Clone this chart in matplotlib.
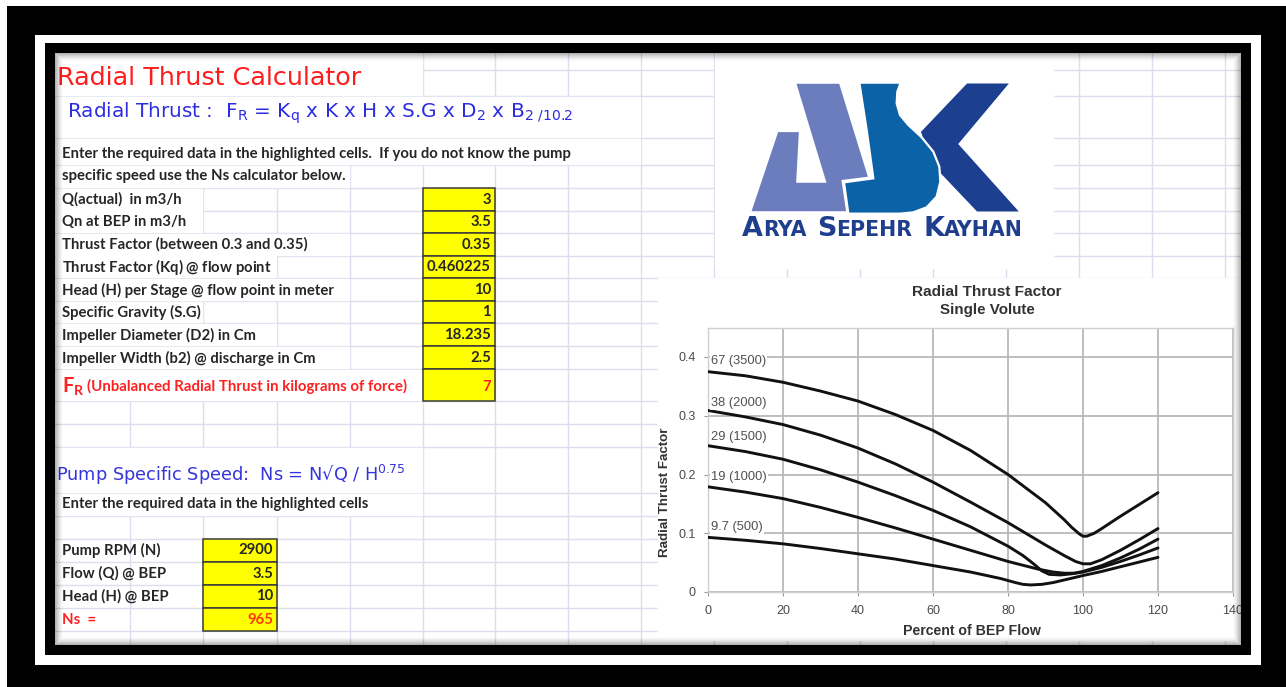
import matplotlib
matplotlib.use("Agg")
import matplotlib.pyplot as plt
from matplotlib.patches import Rectangle, Polygon, PathPatch
from matplotlib.path import Path

# ------------------------------------------------------------------ data
calc_labels = ["Q(actual)  in m3/h", "Qn at BEP in m3/h",
               "Thrust Factor (between 0.3 and 0.35)",
               "Thrust Factor (K$\\mathregular{q}$) @ flow point",
               "Head (H) per Stage @ flow point in meter",
               "Specific Gravity (S.G)", "Impeller Diameter (D2) in Cm",
               "Impeller Width (b2) @ discharge in Cm"]
calc_values = ["3", "3.5", "0.35", "0.460225", "10", "1", "18.235", "2.5"]
fr_label = "(Unbalanced Radial Thrust in kilograms of force)"
fr_value = "7"
ns_labels = ["Pump RPM (N)", "Flow (Q) @ BEP", "Head (H) @ BEP"]
ns_values = ["2900", "3.5", "10"]
ns_result = "965"

curve_names = ["67 (3500)", "38 (2000)", "29 (1500)", "19 (1000)", "9.7 (500)"]
flow_67 = [0, 10, 20, 30, 40, 50, 60, 70, 80, 90, 95, 97, 99, 100, 101, 103, 105, 110, 115, 120]
thrust_67 = [0.375, 0.368, 0.357, 0.342, 0.325, 0.302, 0.275, 0.241, 0.200, 0.152,
             0.123, 0.110, 0.099, 0.095, 0.095, 0.100, 0.108, 0.129, 0.149, 0.169]
flow_38 = [0, 10, 20, 30, 40, 50, 60, 70, 80, 90, 95, 98, 100, 102, 105, 110, 115, 120]
thrust_38 = [0.309, 0.298, 0.285, 0.267, 0.245, 0.218, 0.187, 0.153, 0.118, 0.080,
             0.062, 0.052, 0.048, 0.048, 0.055, 0.071, 0.089, 0.108]
flow_29 = [0, 10, 20, 30, 40, 50, 60, 70, 80, 84, 87, 89, 91, 94, 97, 100, 105, 110, 115, 120]
thrust_29 = [0.249, 0.239, 0.226, 0.208, 0.187, 0.164, 0.139, 0.111, 0.078, 0.062,
             0.047, 0.036, 0.030, 0.029, 0.031, 0.035, 0.045, 0.058, 0.073, 0.090]
flow_19 = [0, 10, 20, 30, 40, 50, 60, 70, 80, 88, 92, 95, 98, 100, 105, 110, 115, 120]
thrust_19 = [0.179, 0.170, 0.159, 0.144, 0.127, 0.109, 0.090, 0.071, 0.052, 0.039,
             0.034, 0.032, 0.032, 0.034, 0.042, 0.052, 0.063, 0.075]
flow_97 = [0, 10, 20, 30, 40, 50, 60, 70, 78, 82, 84, 86, 89, 92, 96, 100, 105, 110, 115, 120]
thrust_97 = [0.093, 0.088, 0.082, 0.074, 0.065, 0.056, 0.045, 0.034, 0.023, 0.016,
             0.013, 0.012, 0.013, 0.016, 0.022, 0.028, 0.035, 0.043, 0.051, 0.059]

x_ticks = [0, 20, 40, 60, 80, 100, 120, 140]
y_ticks = [0, 0.1, 0.2, 0.3, 0.4]
y_tick_labels = ["0", "0.1", "0.2", "0.3", "0.4"]

# ------------------------------------------------------------------ figure
W, H = 1286, 687
fig = plt.figure(figsize=(W / 100, H / 100), dpi=100)
R = fig.canvas.get_renderer()

bg = fig.add_axes([0, 0, 1, 1], zorder=0)
bg.set_xlim(0, W); bg.set_ylim(H, 0); bg.axis("off")

ov = fig.add_axes([0, 0, 1, 1], zorder=10)
ov.set_xlim(0, W); ov.set_ylim(H, 0); ov.axis("off"); ov.patch.set_alpha(0)


def ring(ax, outer, inner, color, z, alpha=1.0):
    x0, y0, x1, y1 = outer
    a0, b0, a1, b1 = inner
    verts = [(x0, y0), (x1, y0), (x1, y1), (x0, y1), (x0, y0),
             (a0, b0), (a0, b1), (a1, b1), (a1, b0), (a0, b0)]
    codes = [Path.MOVETO, Path.LINETO, Path.LINETO, Path.LINETO, Path.CLOSEPOLY] * 2
    ax.add_patch(PathPatch(Path(verts, codes), facecolor=color, edgecolor="none",
                           zorder=z, alpha=alpha))


def tw(t):
    return t.get_window_extent(renderer=R).width


def fit_text(ax, x, y, s, width, ha="left", va="center", size0=10, **kw):
    t = ax.text(x, y, s, fontsize=size0, ha=ha, va=va, **kw)
    t.set_fontsize(size0 * width / tw(t))
    return t


# ---------------- content background + excel grid
CX0, CY0, CX1, CY1 = 55, 53, 1241, 645
bg.add_patch(Rectangle((CX0, CY0), CX1 - CX0, CY1 - CY0, color="white", zorder=0))
GRID = "#dcdeee"
cols = [130, 203, 277, 350, 423, 495, 568, 641, 714, 787, 860, 933, 1006, 1079, 1152, 1225]
rows = [70, 96, 138, 165, 188, 210.5, 233, 255.5, 278, 301, 323, 346, 369, 401,
        424, 447, 493, 516, 539, 562, 585, 608, 631]
for c in cols:
    bg.plot([c, c], [CY0, CY1], color=GRID, lw=1.0, zorder=1)
for r in rows:
    bg.plot([CX0, CX1], [r, r], color=GRID, lw=1.0, zorder=1)


def hide(top, bot, x0, x_end):
    right = next((c for c in cols if c >= x_end), CX1)
    bg.add_patch(Rectangle((x0, top + 0.8), right - 0.8 - x0, bot - top - 1.6,
                           color="white", zorder=1.5))


# ---------------- title + formula
TXT = "#262626"
FONT = "Lato"
fit_text(bg, 57, 78, "Radial Thrust Calculator", 305, color="#ff1c1c",
         family="DejaVu Sans", zorder=3)
hide(CY0 - 1, 96, 56, 365)
fit_text(bg, 67, 113,
         "Radial Thrust :  F$_\\mathregular{R}$ = K$_\\mathregular{q}$ x K x H x S.G x "
         "D$_\\mathregular{2}$ x B$_\\mathregular{2\\ /10.2}$",
         506, color="#2d2de0", family="DejaVu Sans", zorder=3)
hide(96, 138, 56, 575)

# ---------------- upper table
enter = fit_text(bg, 62, 154,
                 "Enter the required data in the highlighted cells.  If you do not know the pump",
                 511, color=TXT, family=FONT, weight="bold", zorder=3)
fs = enter.get_fontsize()
hide(138, 165, 56, 575)
t = bg.text(62, 176, "specific speed use the Ns calculator below.", fontsize=fs,
            color=TXT, family=FONT, weight="bold", va="center", zorder=3)
hide(165, 188, 56, 62 + tw(t))

row_edges = [188, 210.5, 233, 255.5, 278, 301, 323, 346, 369]
for i, (lab, val) in enumerate(zip(calc_labels, calc_values)):
    top, bot = row_edges[i], row_edges[i + 1] if i + 1 < len(row_edges) else 369
    yc = (top + bot) / 2 + 0.5
    t = bg.text(62, yc, lab, fontsize=fs, color=TXT, family=FONT, weight="bold",
                va="center", zorder=3)
    hide(top, bot, 56, 62 + tw(t))
    bg.add_patch(Rectangle((423, top), 72, bot - top, facecolor="#ffff00",
                           edgecolor="#3a3a3a", lw=1.1, zorder=2))
    bg.text(491, yc, val, fontsize=fs, color=TXT, family=FONT, weight="bold",
            va="center", ha="right", zorder=3)

# F_R row
bg.add_patch(Rectangle((423, 369), 72, 32, facecolor="#ffff00", edgecolor="#3a3a3a",
                       lw=1.1, zorder=2))
bg.text(62, 387, "F$_\\mathregular{R}$", fontsize=fs * 1.35, color="#ff2020",
        family=FONT, weight="bold", va="center", zorder=3)
fit_text(bg, 87, 386, fr_label, 321, color="#ff2020", family=FONT,
         weight="bold", zorder=3)
hide(369, 401, 56, 410)
bg.text(491, 387, fr_value, fontsize=fs, color="#ff2020", family=FONT, weight="bold",
        va="center", ha="right", zorder=3)

# ---------------- Ns section
fit_text(bg, 56, 475, "Pump Specific Speed:  Ns = N\u221aQ / H$^\\mathregular{0.75}$", 350,
         color="#3535dc", family="DejaVu Sans", zorder=3)
hide(447, 493, 56, 410)
t = bg.text(62, 504, "Enter the required data in the highlighted cells", fontsize=fs,
            color=TXT, family=FONT, weight="bold", va="center", zorder=3)
hide(493, 516, 56, 62 + tw(t))
ns_edges = [539, 562, 585, 608, 631]
for i, (lab, val) in enumerate(zip(ns_labels + ["Ns  ="], ns_values + [ns_result])):
    top, bot = ns_edges[i], ns_edges[i + 1]
    yc = (top + bot) / 2
    col = "#ff2020" if i == 3 else TXT
    vcol = "#ff3a10" if i == 3 else TXT
    bg.add_patch(Rectangle((203, top), 74, bot - top, facecolor="#ffff00",
                           edgecolor="#3a3a3a", lw=1.1, zorder=2))
    bg.text(62, yc, lab, fontsize=fs, color=col, family=FONT, weight="bold",
            va="center", zorder=3)
    bg.text(273, yc, val, fontsize=fs, color=vcol, family=FONT, weight="bold",
            va="center", ha="right", zorder=3)

# ---------------- logo
bg.add_patch(Rectangle((715, CY0), 338, 268 - CY0, color="white", zorder=1.6))


def L(pts):
    return [(700 + x / 3.0, 50 + y / 3.0) for x, y in pts]


k_pts = [(660, 245), (800, 98), (932, 98), (778, 282), (962, 487), (830, 487), (695, 345)]
s_pts = [(478, 98), (602, 98), (592, 125), (590, 160), (600, 195), (625, 225),
         (665, 262), (700, 305), (718, 350), (721, 395), (710, 440), (680, 472),
         (640, 487), (600, 491), (445, 491), (432, 397), (520, 385), (500, 240)]
a_pts = [(150, 487), (232, 243), (300, 243), (292, 395), (375, 395), (285, 98),
         (420, 98), (508, 383), (428, 393), (442, 487)]
bg.add_patch(Polygon(L(k_pts), closed=True, facecolor="#1c3f8f", edgecolor="white",
                     lw=1.2, zorder=2))
bg.add_patch(Polygon(L(s_pts), closed=True, facecolor="#0c62a6", edgecolor="white",
                     lw=1.6, zorder=2.1))
bg.add_patch(Polygon(L(a_pts), closed=True, facecolor="#6c7dbd", edgecolor="white",
                     lw=1.6, zorder=2.2))

# small caps company name
words = ["ARYA", "SEPEHR", "KAYHAN"]
x_left, x_right, y_base = 742, 1023, 236
big, small = 10.0, 7.6


def layout(scale, draw):
    x = x_left
    objs = []
    for wi, wd in enumerate(words):
        for piece, sz in ((wd[0], big), (wd[1:], small)):
            t = bg.text(x, y_base, piece, fontsize=sz * scale, color="#1f3e8e",
                        family="DejaVu Sans", weight="bold", va="baseline", zorder=3)
            x += tw(t)
            objs.append(t)
        if wi < len(words) - 1:
            x += 5.5 * scale
    if not draw:
        for o in objs:
            o.remove()
    return x - x_left


total = layout(1.0, False)
layout((x_right - x_left) / total, True)

# ---------------- chart
bg.add_patch(Rectangle((658, 278), CX1 - 658, 640 - 278, color="white", zorder=1.6))
Y0PX, YPER = 592, 587.5
ax = fig.add_axes([708 / W, (H - Y0PX) / H, (1233 - 708) / W, (0.45 * YPER) / H], zorder=5)
ax.set_xlim(0, 140)
ax.set_ylim(0, 0.45)
ax.set_facecolor("white")
ax.set_xticks(x_ticks)
ax.set_yticks(y_ticks)
ax.set_yticklabels(y_tick_labels)
ax.grid(True, color="#b9b9b9", lw=1.3)
ax.set_axisbelow(True)
for sp in ax.spines.values():
    sp.set_color("#cfcfcf"); sp.set_linewidth(1.0)
ax.tick_params(colors="#9a9a9a", labelcolor="#4a4a4a", length=3, width=0.8, pad=6)
for lbl in ax.get_xticklabels() + ax.get_yticklabels():
    lbl.set_family("Liberation Sans")
    lbl.set_fontsize(9.0)

series = [(flow_67, thrust_67), (flow_38, thrust_38), (flow_29, thrust_29),
          (flow_19, thrust_19), (flow_97, thrust_97)]
for fx, ty in series:
    ax.plot(fx, ty, color="#111111", lw=2.1, solid_joinstyle="round",
            solid_capstyle="round", zorder=3)

label_pos = [0.393, 0.321, 0.264, 0.195, 0.110]
lab_fs = None
for name, yv in zip(curve_names, label_pos):
    t = ax.text(0.8, yv, name, fontsize=8.0, color="#505050", family="Liberation Sans",
                va="center", ha="left", zorder=4,
                bbox=dict(facecolor="white", edgecolor="none", pad=0.6))
    if lab_fs is None:
        lab_fs = 8.0 * 55.0 / tw(t)
    t.set_fontsize(lab_fs)

fit_text(bg, 987, 292, "Radial Thrust Factor", 150, ha="center", color="#333333",
         family="Liberation Sans", weight="bold", zorder=3)
fit_text(bg, 987, 310, "Single Volute", 95, ha="center", color="#333333",
         family="Liberation Sans", weight="bold", zorder=3)
fit_text(bg, 972, 631, "Percent of BEP Flow", 138, ha="center", color="#333333",
         family="Liberation Sans", weight="bold", zorder=3)
yl = fit_text(bg, 665, 492, "Radial Thrust Factor", 130, ha="center", color="#333333",
              family="Liberation Sans", weight="bold", zorder=3)
yl.set_rotation(90)

# ---------------- frame (on top)
ov.add_patch(Rectangle((0, 0), W, 6, color="white", zorder=1))
ov.add_patch(Rectangle((0, 0), 7, H, color="white", zorder=1))
ring(ov, (7, 6, W, H), (35, 35, 1261, 665), "black", 2)
ring(ov, (35, 35, 1261, 665), (45, 43, 1251, 655), "white", 2)
ring(ov, (45, 43, 1251, 655), (CX0, CY0, CX1, CY1), "black", 2)
for i in range(8):
    ring(ov, (CX0 + i, CY0 + i, CX1 - i, CY1 - i),
         (CX0 + i + 1, CY0 + i + 1, CX1 - i - 1, CY1 - i - 1), "black", 1.5,
         alpha=0.30 * (1 - i / 8.0) ** 1.5)

fig.savefig("out.png", dpi=100)
